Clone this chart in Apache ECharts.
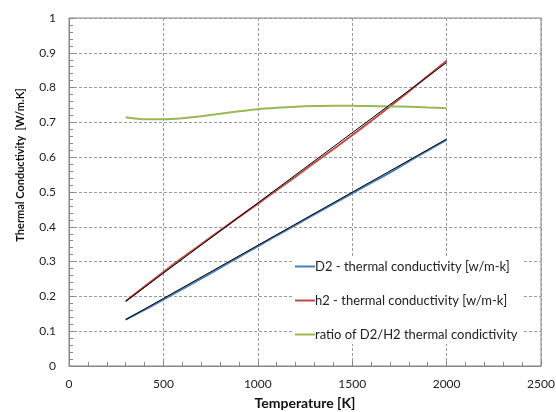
<!DOCTYPE html>
<html>
<head>
<meta charset="utf-8">
<script src="https://cdn.jsdelivr.net/npm/echarts@6/dist/echarts.min.js"></script>
<style>
  html, body { margin: 0; padding: 0; background: #fff; }
  #chart { width: 556px; height: 412px; }
</style>
</head>
<body>
<div id="chart"></div>
<script>
// temperatures [K]
const temps = [300, 400, 500, 600, 700, 800, 900, 1000, 1100, 1200, 1300, 1400, 1500, 1600, 1700, 1800, 1900, 2000];
const d2Cond = [0.133, 0.161, 0.191, 0.221, 0.251, 0.282, 0.313, 0.344, 0.375, 0.405, 0.436, 0.466, 0.496, 0.526, 0.556, 0.588, 0.619, 0.650];
const h2Cond = [0.186, 0.228, 0.270, 0.311, 0.350, 0.389, 0.428, 0.466, 0.505, 0.544, 0.584, 0.623, 0.663, 0.704, 0.746, 0.789, 0.833, 0.877];
const ratio = [0.715, 0.709, 0.709, 0.712, 0.718, 0.725, 0.732, 0.738, 0.742, 0.745, 0.747, 0.748, 0.748, 0.747, 0.746, 0.745, 0.743, 0.741];
// linear trend lines (black)
const d2Trend = [[300, 0.133], [2000, 0.652]];
const h2Trend = [[300, 0.186], [2000, 0.872]];

const names = [
    "D2 - thermal conductivity [w/m-k]",
    "h2 - thermal conductivity [w/m-k]",
    "ratio of D2/H2 thermal condictivity",
];

const font = "Lato, 'Open Sans', sans-serif";
const pair = (ys) => temps.map((t, i) => [t, ys[i]]);

const chart = echarts.init(document.getElementById("chart"), undefined, { renderer: "canvas" });

const axisCommon = {
    axisLine: { show: true, lineStyle: { color: "#868686", width: 1 } },
    axisTick: { show: true, inside: true, length: 5, lineStyle: { color: "#868686" } },
    minorTick: { show: true, splitNumber: 5, length: 4, lineStyle: { color: "#868686" } },
    splitLine: { show: true, lineStyle: { color: "#9a9a9a", type: [3, 2] } },
    axisLabel: { color: "#222", fontSize: 12, fontFamily: font, formatter: (v) => String(v) },
};

chart.setOption({
    animation: false,
    textStyle: { fontFamily: font },
    grid: {
        left: 69, right: 15, top: 18, bottom: 46,
        outerBoundsMode: "none",
        show: true, borderColor: "#868686", borderWidth: 1,
    },
    graphic: [
        {
            type: "text",
            x: 20, y: 165,
            rotation: Math.PI / 2,
            style: {
                text: "Thermal Conductivity  [W/m.K]",
                fontSize: 11, fontWeight: "bold", fill: "#111", fontFamily: font,
                align: "center", verticalAlign: "middle",
            },
        },
    ],
    legend: {
        data: names,
        orient: "vertical",
        left: 292,
        top: 257,
        itemWidth: 20,
        itemHeight: 2,
        itemGap: 21,
        padding: [3, 6, 3, 3],
        backgroundColor: "#fff",
        icon: "rect",
        textStyle: { fontSize: 13, color: "#222", fontFamily: font, padding: [0, 0, 0, -5] },
    },
    xAxis: {
        type: "value",
        min: 0, max: 2500, interval: 500,
        name: "Temperature [K]",
        nameLocation: "middle",
        nameGap: 30,
        nameTextStyle: { fontWeight: "bold", fontSize: 14, color: "#111", fontFamily: font },
        ...axisCommon,
        axisLabel: { ...axisCommon.axisLabel, margin: 12 },
    },
    yAxis: {
        type: "value",
        min: 0, max: 1, interval: 0.1,
        ...axisCommon,
        axisLabel: { ...axisCommon.axisLabel, margin: 13 },
    },
    series: [
        {
            name: names[0], type: "line", data: pair(d2Cond), showSymbol: false, smooth: 0.2,
            lineStyle: { color: "#4a7ebb", width: 2 }, itemStyle: { color: "#4a7ebb" }, z: 2,
        },
        {
            name: names[1], type: "line", data: pair(h2Cond), showSymbol: false, smooth: 0.2,
            lineStyle: { color: "#be4b48", width: 2 }, itemStyle: { color: "#be4b48" }, z: 2,
        },
        {
            name: names[2], type: "line", data: pair(ratio), showSymbol: false, smooth: 0.2,
            lineStyle: { color: "#98b954", width: 2 }, itemStyle: { color: "#98b954" }, z: 2,
        },
        {
            name: "D2 trend", type: "line", data: d2Trend, showSymbol: false,
            lineStyle: { color: "#000", width: 1 }, z: 3,
        },
        {
            name: "h2 trend", type: "line", data: h2Trend, showSymbol: false,
            lineStyle: { color: "#000", width: 1 }, z: 3,
        },
    ],
});
</script>
</body>
</html>
